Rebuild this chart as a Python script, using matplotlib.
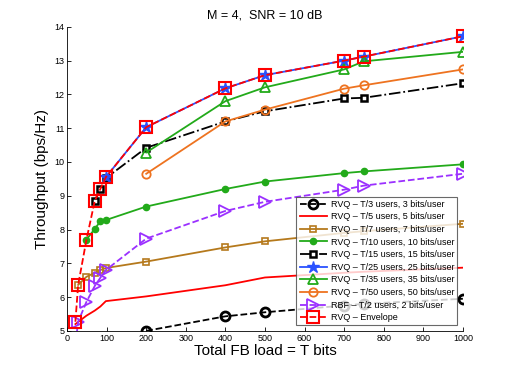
import numpy as np
import matplotlib
matplotlib.use("Agg")
import matplotlib.pyplot as plt

plt.rcParams['font.family'] = ['Liberation Sans', 'DejaVu Sans']

# Total feedback load T (bits)
T_all = [21, 28, 49, 70, 84, 98, 200, 400, 500, 700, 750, 1000]

# RVQ - T/3 users
T_3 = [200, 400, 500, 700, 750, 1000]
rvq_3 = [5.0, 5.43, 5.55, 5.75, 5.8, 5.95]

# RVQ - T/5 users
T_5 = [21, 49, 70, 84, 98, 200, 400, 500, 700, 750, 1000]
rvq_5 = [5.2, 5.45, 5.6, 5.72, 5.88, 6.02, 6.35, 6.58, 6.72, 6.75, 6.87]

# RVQ - T/7 users
T_7 = [28, 49, 70, 84, 98, 200, 400, 500, 700, 750, 1000]
rvq_7 = [6.36, 6.6, 6.72, 6.8, 6.86, 7.05, 7.47, 7.65, 7.9, 7.95, 8.17]

# RVQ - T/10 users
T_10 = [49, 70, 84, 98, 200, 400, 500, 700, 750, 1000]
rvq_10 = [7.7, 8.02, 8.24, 8.28, 8.68, 9.2, 9.42, 9.67, 9.72, 9.93]

# RVQ - T/15 users
T_15 = [70, 84, 98, 200, 400, 500, 700, 750, 1000]
rvq_15 = [8.85, 9.2, 9.52, 10.42, 11.2, 11.5, 11.88, 11.9, 12.33]

# RVQ - T/25 users
T_25 = [98, 200, 400, 500, 700, 750, 1000]
rvq_25 = [9.55, 11.03, 12.18, 12.57, 13.0, 13.12, 13.72]

# RVQ - T/35 users
T_35 = [200, 400, 500, 700, 750, 1000]
rvq_35 = [10.28, 11.8, 12.21, 12.74, 12.98, 13.26]

# RVQ - T/50 users
T_50 = [200, 400, 500, 700, 750, 1000]
rvq_50 = [9.65, 11.2, 11.55, 12.17, 12.27, 12.74]

# RBF - T/2 users
T_rbf = [21, 28, 49, 70, 84, 98, 200, 400, 500, 700, 750, 1000]
rbf_2 = [4.6, 5.27, 5.86, 6.33, 6.57, 6.8, 7.73, 8.55, 8.82, 9.18, 9.3, 9.65]

# RVQ envelope
envelope = [5.27, 6.36, 7.7, 8.85, 9.2, 9.55, 11.03, 12.18, 12.57, 13.0, 13.12, 13.72]

BROWN = '#b5791c'
GREEN = '#22aa1a'
ORANGE = '#ee7320'
PURPLE = '#9b30ff'
BLUE = '#2a52ff'

fig = plt.figure(figsize=(5.12, 3.73), dpi=100)
ax = fig.add_axes([0.131, 0.113, 0.773, 0.815])

lw = 1.3
ax.plot(T_3, rvq_3, '--', color='black', lw=lw, marker='o', ms=6.5, mfc='none', mew=2.0,
        label='RVQ – T/3 users, 3 bits/user')
ax.plot(T_5, rvq_5, '-', color='red', lw=lw,
        label='RVQ – T/5 users, 5 bits/user')
ax.plot(T_7, rvq_7, '-', color=BROWN, lw=lw, marker='s', ms=5, mfc='none', mew=1.2,
        label='RVQ – T/7 users, 7 bits/user')
ax.plot(T_10, rvq_10, '-', color=GREEN, lw=lw, marker='o', ms=4.5, mfc=GREEN, mew=1.0,
        label='RVQ – T/10 users, 10 bits/user')
ax.plot(T_15, rvq_15, '-.', color='black', lw=lw, marker='s', ms=5, mfc='white', mew=1.8,
        label='RVQ – T/15 users, 15 bits/user')
ax.plot(T_25, rvq_25, '-', color=BLUE, lw=lw, marker='*', ms=9, mfc=BLUE, mew=1.0,
        label='RVQ – T/25 users, 25 bits/user')
ax.plot(T_35, rvq_35, '-', color=GREEN, lw=lw, marker='^', ms=7, mfc='none', mew=1.3,
        label='RVQ – T/35 users, 35 bits/user')
ax.plot(T_50, rvq_50, '-', color=ORANGE, lw=lw, marker='o', ms=6, mfc='none', mew=1.3,
        label='RVQ – T/50 users, 50 bits/user')
ax.plot(T_rbf, rbf_2, '--', color=PURPLE, lw=lw, marker='>', ms=8, mfc='none', mew=1.3,
        label='RBF – T/2 users, 2 bits/user')
ax.plot(T_all, envelope, '--', color='red', lw=lw, marker='s', ms=8.5, mfc='none', mew=1.5,
        label='RVQ – Envelope')

ax.set_xlim(0, 1000)
ax.set_ylim(5, 14)
ax.set_xticks(np.arange(0, 1001, 100))
ax.set_yticks(np.arange(5, 15, 1))
ax.tick_params(direction='in', length=3, labelsize=6.5, width=0.6, pad=2)
for side in ['top', 'right']:
    ax.spines[side].set_visible(False)
for side in ['left', 'bottom']:
    ax.spines[side].set_linewidth(0.6)

ax.set_xlabel('Total FB load = T bits', fontsize=11, labelpad=1)
ax.set_ylabel('Throughput (bps/Hz)', fontsize=11, labelpad=4)
ax.set_title('M = 4,  SNR = 10 dB', fontsize=9, pad=6)

leg = ax.legend(loc='lower right', fontsize=6.5, frameon=True, fancybox=False,
                edgecolor='#444444', borderpad=0.35, labelspacing=0.4,
                handlelength=3.0, handletextpad=0.45, borderaxespad=0.6)
leg.get_frame().set_linewidth(0.8)

fig.savefig('out.png', dpi=100)
